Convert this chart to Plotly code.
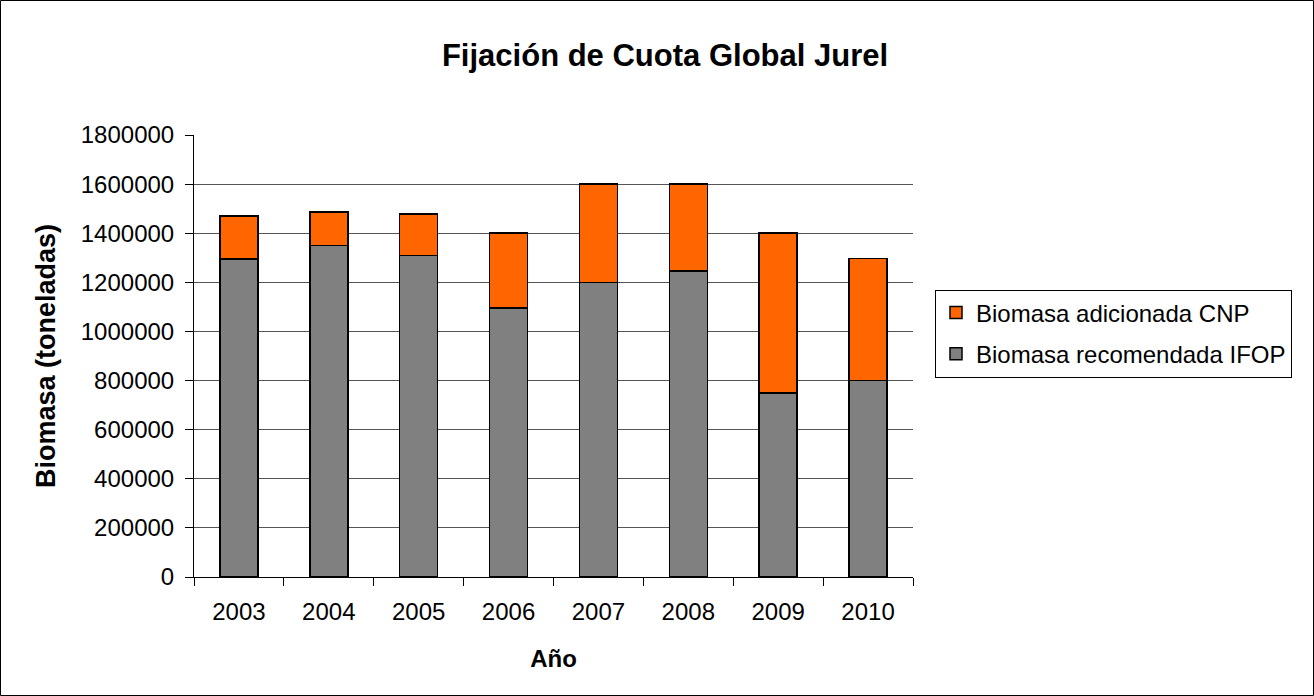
import plotly.graph_objects as go

years = ["2003", "2004", "2005", "2006", "2007", "2008", "2009", "2010"]
ifop = [1295000, 1350000, 1310000, 1095000, 1200000, 1247000, 750000, 800000]
cnp = [175000, 137000, 168000, 305000, 400000, 353000, 650000, 497000]

FONT = "Liberation Sans, Arial, sans-serif"

L, R, T, B = 194, 913, 135, 577
W, H = 1314, 696
pw, ph = R - L, B - T

fig = go.Figure()
fig.add_trace(go.Bar(
    x=years, y=ifop, name="Biomasa recomendada IFOP", legendgroup="a", legendrank=2,
    marker=dict(color="#808080", line=dict(color="black", width=1.5)),
))
fig.add_trace(go.Bar(
    x=years, y=cnp, name="Biomasa adicionada CNP", legendgroup="b", legendrank=1,
    marker=dict(color="#FF6600", line=dict(color="black", width=1.5)),
))

fig.update_layout(
    barmode="stack",
    bargap=0.577,
    width=W, height=H,
    margin=dict(l=L, r=W - R, t=T, b=H - B),
    paper_bgcolor="white", plot_bgcolor="white",
    font=dict(family=FONT, size=24, color="black"),
    title=dict(text="<b>Fijación de Cuota Global Jurel</b>", x=(665 - L) / pw, xref="paper",
               xanchor="center", y=1 - 55 / H, yanchor="middle", font=dict(size=31)),
    legend=dict(traceorder="grouped", tracegroupgap=7,
                x=(935 - L) / pw, xanchor="left", y=(B - 333.5) / ph, yanchor="middle",
                bordercolor="black", borderwidth=1, font=dict(size=24)),
    xaxis=dict(showline=True, linecolor="black", linewidth=1, ticks="outside",
               tickson="boundaries", ticklen=8, tickcolor="black", ticklabelstandoff=13,
               title=dict(text="<b>Año</b>", font=dict(size=24), standoff=26),
               range=[-0.5, 7.5]),
    yaxis=dict(range=[0, 1800000], dtick=200000, showline=True, linecolor="black",
               linewidth=1, ticks="outside", ticklen=8, tickcolor="black",
               ticklabelstandoff=6,
               showgrid=True, gridcolor="#555555", gridwidth=1,
               tickformat="d", zeroline=False,
               title=dict(text="<b>Biomasa (toneladas)</b>", font=dict(size=27), standoff=17)),
    shapes=[dict(type="rect", xref="paper", yref="paper",
                 x0=(0.5 - L) / pw, x1=(W - 0.5 - L) / pw,
                 y0=(B - (H - 0.5)) / ph, y1=(B - 0.5) / ph,
                 line=dict(color="black", width=1))],
)

fig.write_html("out.html", config={"displayModeBar": False},
               post_script="document.body.style.margin='0px';document.body.style.overflow='hidden';")
